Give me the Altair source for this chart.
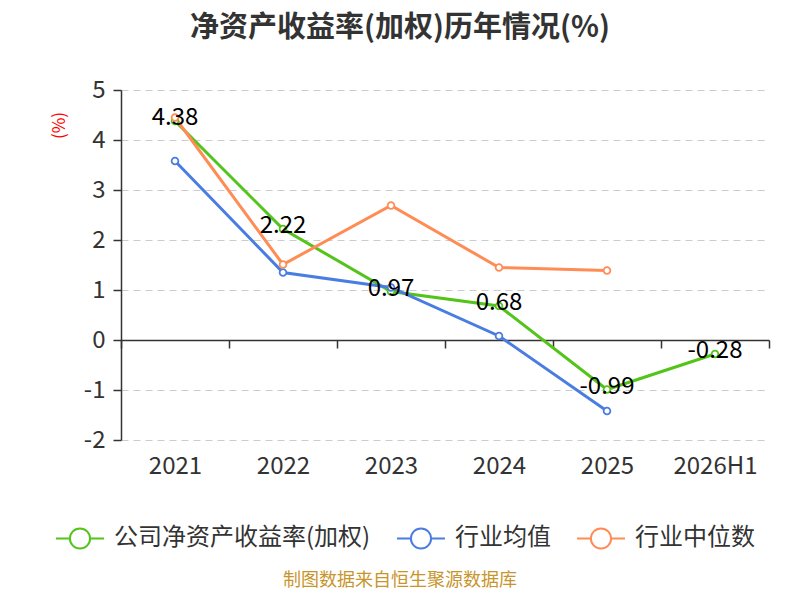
import altair as alt
import pandas as pd

years = ["2021", "2022", "2023", "2024", "2025", "2026H1"]
company = [4.38, 2.22, 0.97, 0.68, -0.99, -0.28]
industry_avg = [3.58, 1.35, 1.05, 0.08, -1.42]
industry_median = [4.45, 1.51, 2.69, 1.45, 1.39]

series_names = ["公司净资产收益率(加权)", "行业均值", "行业中位数"]
series_colors = ["#52c41a", "#4a7de2", "#ff8c55"]

rows = []
for name, vals in zip(series_names, [company, industry_avg, industry_median]):
    for y, v in zip(years, vals):
        rows.append({"year": y, "value": v, "series": name, "label": f"{v:.2f}"})
df = pd.DataFrame(rows)

FONT = "Noto Sans CJK SC"

x_enc = alt.X(
    "year:N",
    sort=years,
    scale=alt.Scale(type="band", domain=years, paddingInner=0, paddingOuter=0),
    axis=alt.Axis(
        title=None,
        offset=-100,
        domainColor="#333333",
        domainWidth=1.5,
        tickColor="#333333",
        tickWidth=1.5,
        tickSize=8,
        tickBand="extent",
        labelPadding=106,
        labelFontSize=24,
        labelColor="#333333",
        labelAngle=0,
        grid=False,
    ),
)

y_enc = alt.Y(
    "value:Q",
    scale=alt.Scale(domain=[-2, 5], nice=False, zero=False),
    axis=alt.Axis(
        title="(%)",
        titleColor="#ff0000",
        titleFontSize=17,
        titleFontWeight="normal",
        titleAngle=-90,
        titleAlign="center",
        titleBaseline="middle",
        titleX=-62,
        titleY=35,
        values=[-2, -1, 0, 1, 2, 3, 4, 5],
        labelExpr="'' + datum.value",
        labelFontSize=24,
        labelColor="#333333",
        labelPadding=8,
        domainColor="#333333",
        domainWidth=1.5,
        tickColor="#333333",
        tickWidth=1.5,
        tickSize=8,
        grid=True,
        gridColor="#cccccc",
        gridDash=[7, 5],
        gridWidth=1.2,
    ),
)

color_scale = alt.Scale(domain=series_names, range=series_colors)

legend_symbol = (
    "M-1,0L-0.42,0M0.42,0A0.42,0.42,0,1,1,-0.42,0A0.42,0.42,0,1,1,0.42,0M0.42,0L1,0"
)

base = alt.Chart(df)

lines = base.mark_line(strokeWidth=3).encode(
    x=x_enc,
    y=y_enc,
    color=alt.Color(
        "series:N",
        scale=color_scale,
        sort=series_names,
        legend=alt.Legend(
            title=None,
            orient="none",
            direction="horizontal",
            legendX=-66,
            legendY=423,
            symbolType=legend_symbol,
            symbolSize=2300,
            symbolStrokeWidth=2,
            symbolFillColor="white",
            labelFontSize=24,
            labelColor="#333333",
            labelLimit=400,
            labelOffset=9,
            columnPadding=22,
        ),
    ),
    order=alt.Order("year:N"),
)

points = base.mark_point(filled=True, fill="white", size=45, strokeWidth=1.8, opacity=1).encode(
    x=x_enc,
    y=y_enc,
    stroke=alt.Stroke("series:N", scale=color_scale, legend=None),
)

labels = (
    base.transform_filter(alt.datum.series == series_names[0])
    .mark_text(fontSize=24, color="#000000", baseline="middle", dy=-3, font=FONT)
    .encode(x=x_enc, y=y_enc, text=alt.Text("label:N"))
)

source = (
    alt.Chart(pd.DataFrame({"t": ["制图数据来自恒生聚源数据库"]}))
    .mark_text(fontSize=18, color="#c8952c", font=FONT, baseline="middle", align="center")
    .encode(text="t:N", x=alt.value(279), y=alt.value(491))
)

chart = (
    alt.layer(lines, points, labels, source)
    .properties(
        width=648,
        height=350,
        autosize="none",
        padding={"left": 113, "top": 82, "right": 23, "bottom": 152},
        title=alt.TitleParams(
            text="净资产收益率(加权)历年情况(%)",
            fontSize=29,
            fontWeight="bold",
            color="#333333",
            font=FONT,
            anchor="middle",
            dx=-45,
            offset=35,
        ),
    )
    .configure(font=FONT)
    .configure_view(stroke=None)
)

chart.save("out.html", embed_options={"renderer": "svg", "actions": False})
